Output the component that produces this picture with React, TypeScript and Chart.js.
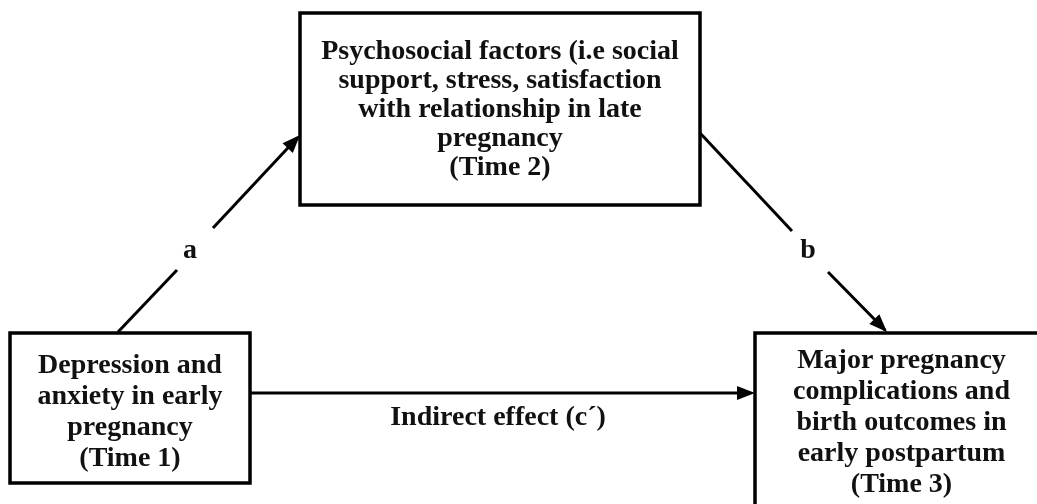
import React, { useEffect, useRef } from "react";
import { Chart, registerables } from "chart.js";

Chart.register(...registerables);

// Diagram content (data-space units: x 0..1037, y 0..504, y grows downward)
const boxLabels: string[][] = [
  [
    "Psychosocial factors (i.e social",
    "support, stress, satisfaction",
    "with relationship in late",
    "pregnancy",
    "(Time 2)",
  ],
  ["Depression and", "anxiety in early", "pregnancy", "(Time 1)"],
  [
    "Major pregnancy",
    "complications and",
    "birth outcomes in",
    "early postpartum",
    "(Time 3)",
  ],
];
const boxLeft = [300, 10, 755];
const boxTop = [13, 333, 333];
const boxRight = [700, 250, 1048];
const boxBottom = [205, 483, 520];
const boxFirstBaseline = [59, 373, 368];
const boxLineStep = [29, 31, 31];

const pathLabels = ["a", "b", "Indirect effect (c\u00b4)"];
const pathLabelX = [190, 808, 498];
const pathLabelY = [258, 258, 425];

// arrow segments (start/end points); the last segment of each path carries the head
const segX0 = [118, 213, 700, 828, 250];
const segY0 = [332, 228, 133, 272, 393];
const segX1 = [177, 300, 792, 887, 755];
const segY1 = [270, 135, 231, 332, 393];
const segHasHead = [false, true, false, true, true];

const FONT = 'bold 28px "Liberation Serif", "Times New Roman", serif';

export default function App() {
  const ref = useRef<HTMLCanvasElement | null>(null);

  useEffect(() => {
    document.body.style.margin = "0";
    const canvas = ref.current;
    if (!canvas) return;

    const diagramPlugin = {
      id: "diagram",
      afterDatasetsDraw(chart: any) {
        const ctx = chart.ctx as CanvasRenderingContext2D;
        const xs = chart.scales.x;
        const ys = chart.scales.y;
        const px = (v: number) => xs.getPixelForValue(v);
        const py = (v: number) => ys.getPixelForValue(v);
        ctx.save();
        // arrow heads
        ctx.fillStyle = "#000";
        for (let i = 0; i < segX0.length; i++) {
          if (!segHasHead[i]) continue;
          const x0 = px(segX0[i]);
          const y0 = py(segY0[i]);
          const x1 = px(segX1[i]);
          const y1 = py(segY1[i]);
          const ang = Math.atan2(y1 - y0, x1 - x0);
          const len = 18;
          const hw = 7;
          const bx = x1 - len * Math.cos(ang);
          const by = y1 - len * Math.sin(ang);
          ctx.beginPath();
          ctx.moveTo(x1, y1);
          ctx.lineTo(bx + hw * Math.sin(ang), by - hw * Math.cos(ang));
          ctx.lineTo(bx - hw * Math.sin(ang), by + hw * Math.cos(ang));
          ctx.closePath();
          ctx.fill();
        }
        // boxes
        ctx.strokeStyle = "#000";
        ctx.lineWidth = 3.5;
        for (let i = 0; i < boxLabels.length; i++) {
          const l = px(boxLeft[i]);
          const t = py(boxTop[i]);
          const r = px(boxRight[i]);
          const b = py(boxBottom[i]);
          ctx.strokeRect(l, t, r - l, b - t);
          ctx.font = FONT;
          ctx.fillStyle = "#111";
          ctx.textAlign = "center";
          ctx.textBaseline = "alphabetic";
          const cx = (l + r) / 2;
          boxLabels[i].forEach((line, j) => {
            ctx.fillText(line, cx, py(boxFirstBaseline[i] + j * boxLineStep[i]));
          });
        }
        // path labels
        ctx.font = FONT;
        ctx.fillStyle = "#111";
        ctx.textAlign = "center";
        pathLabels.forEach((t, i) => {
          ctx.fillText(t, px(pathLabelX[i]), py(pathLabelY[i]));
        });
        ctx.restore();
      },
    };

    const datasets = segX0.map((_, i) => ({
      label: "seg" + i,
      data: [
        { x: segX0[i], y: segY0[i] },
        {
          x: segHasHead[i] ? segX1[i] - (segX1[i] - segX0[i]) * 0.03 : segX1[i],
          y: segHasHead[i] ? segY1[i] - (segY1[i] - segY0[i]) * 0.03 : segY1[i],
        },
      ],
      showLine: true,
      borderColor: "#000",
      borderWidth: 3,
      borderCapStyle: "butt" as const,
      pointRadius: 0,
      fill: false,
    }));

    const chart = new Chart(canvas, {
      type: "scatter",
      data: { datasets },
      options: {
        animation: false,
        responsive: true,
        maintainAspectRatio: false,
        layout: { padding: 0 },
        plugins: {
          legend: { display: false },
          tooltip: { enabled: false },
          title: { display: false },
        },
        scales: {
          x: { type: "linear", min: 0, max: 1037, display: false },
          y: { type: "linear", min: 0, max: 504, reverse: true, display: false },
        },
        events: [],
      },
      plugins: [diagramPlugin],
    });
    return () => chart.destroy();
  }, []);

  return (
    <div
      style={{
        position: "fixed",
        left: 0,
        top: 0,
        width: "1037px",
        height: "504px",
        background: "#fff",
      }}
    >
      <canvas ref={ref} />
    </div>
  );
}
